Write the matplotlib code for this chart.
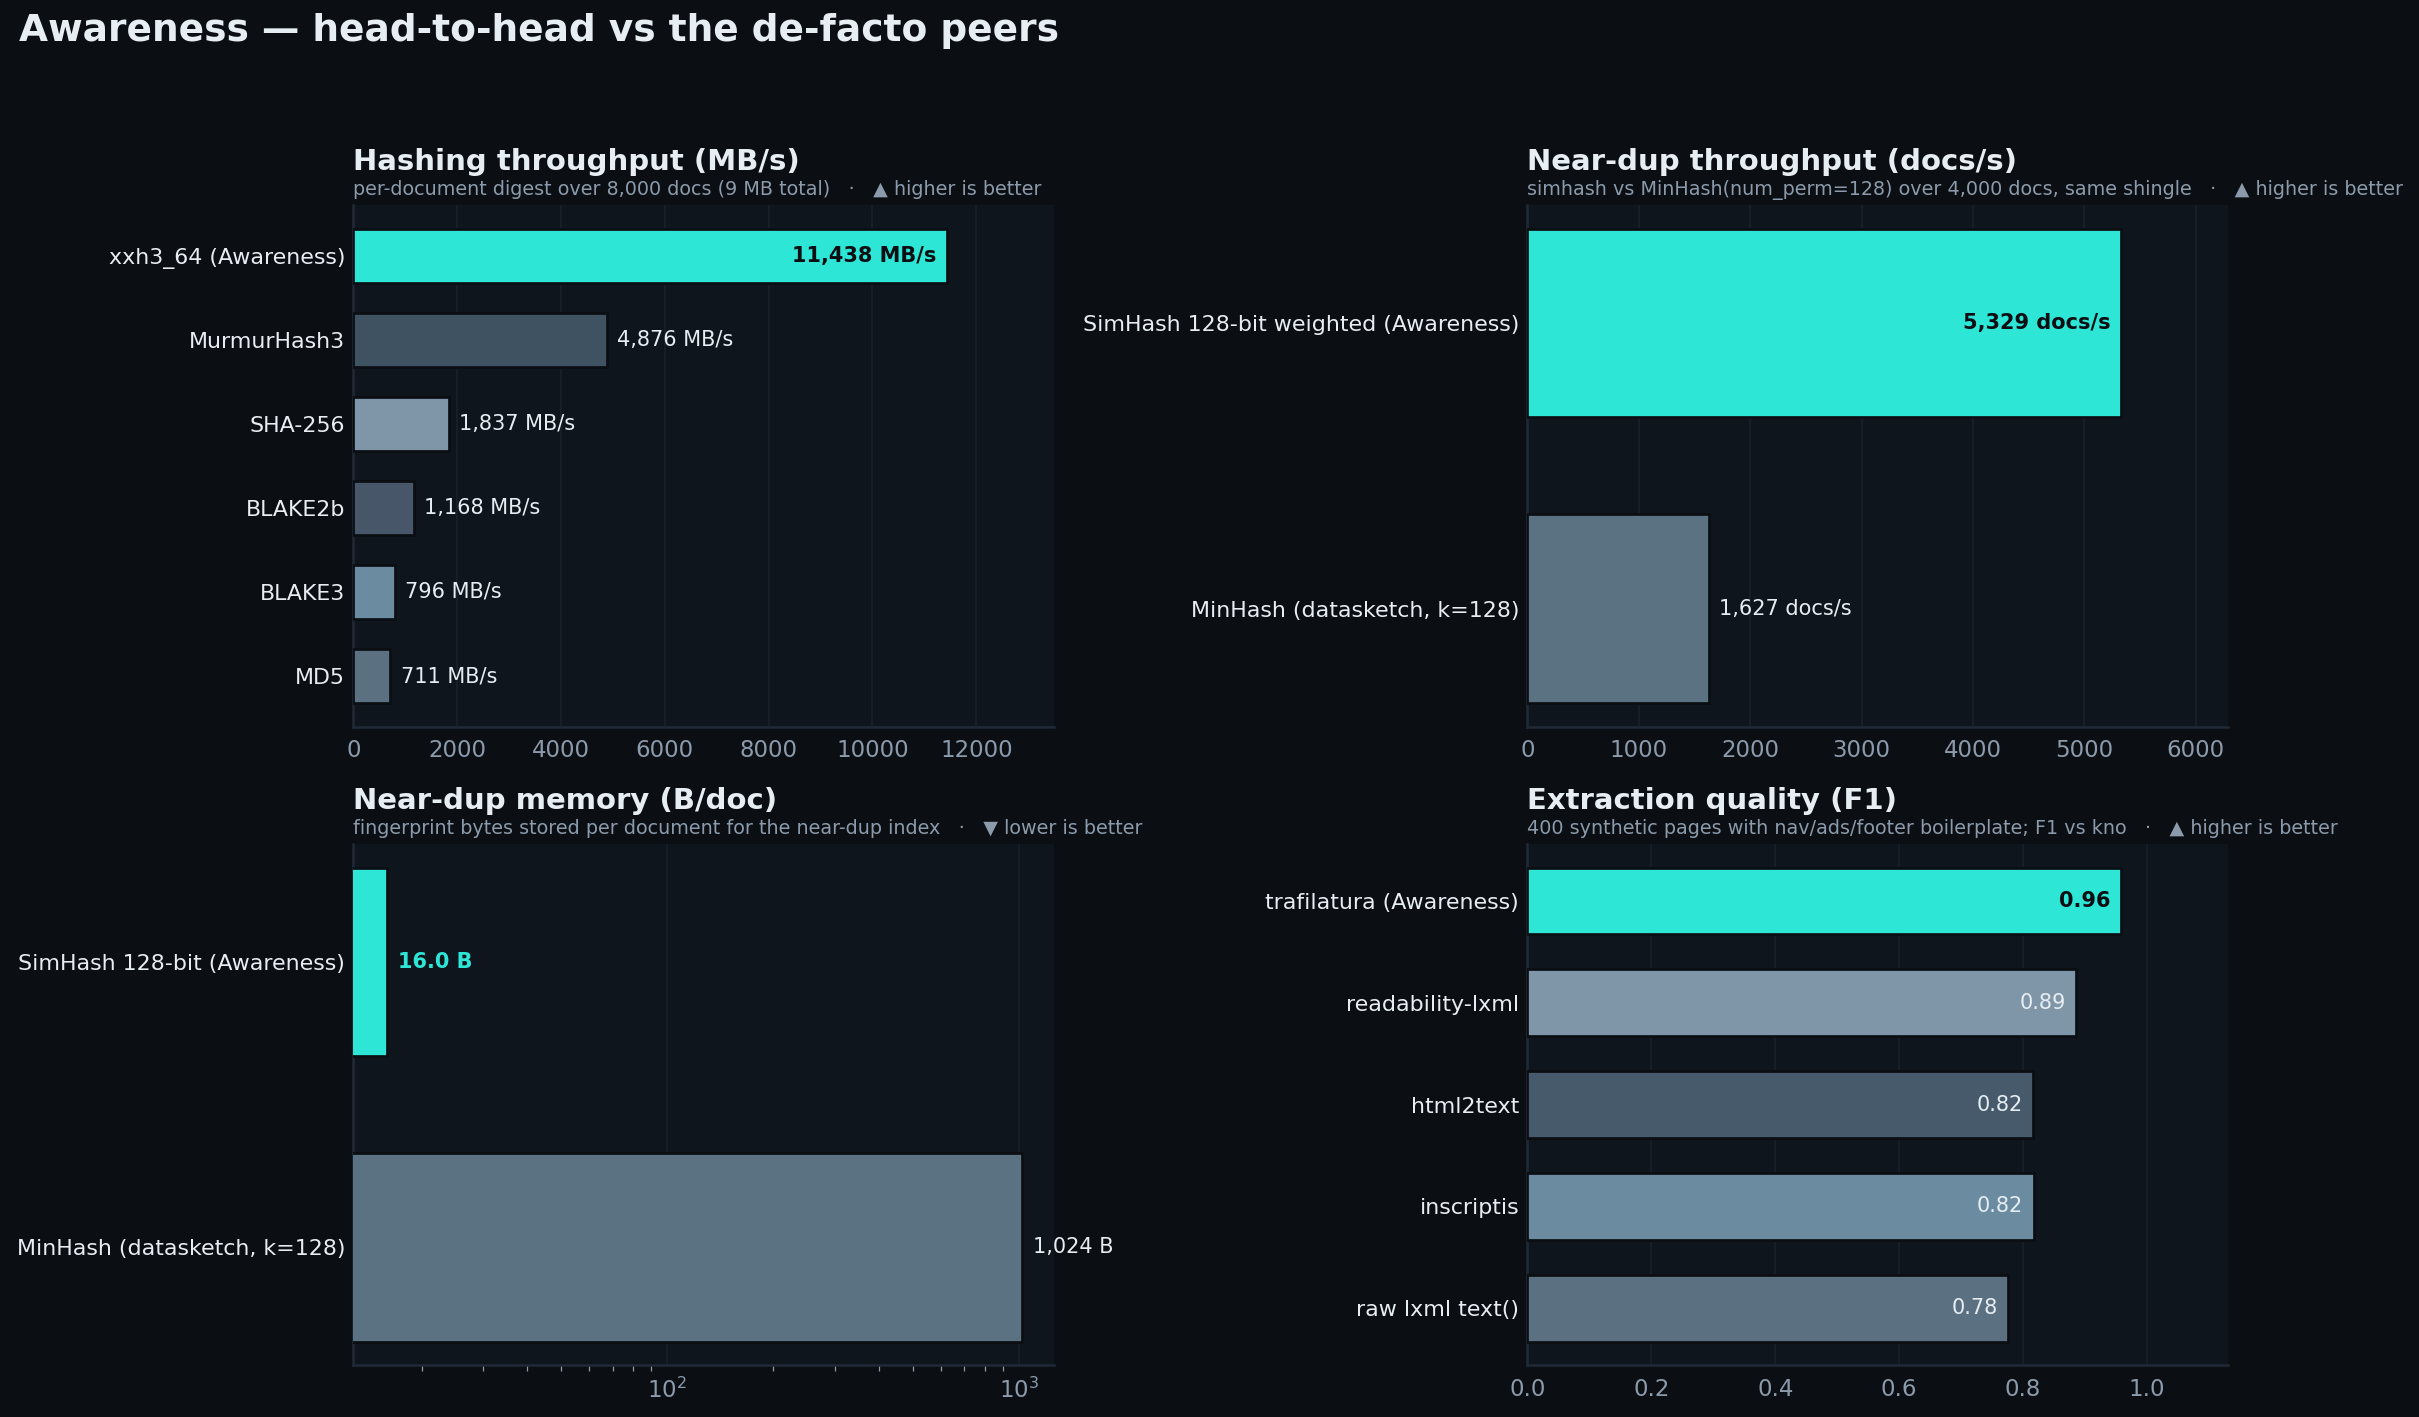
import matplotlib
matplotlib.use("Agg")
import matplotlib.pyplot as plt
import numpy as np

# palette
BG = "#0b0e13"
FACE = "#0f151c"
GRID = "#19212b"
SPINE = "#1f2a36"
TXT = "#e6edf3"
MUTED = "#8b9bab"
CYAN = "#2ee6d6"

# --- data ---
hash_names = ["xxh3_64 (Awareness)", "MurmurHash3", "SHA-256", "BLAKE2b", "BLAKE3", "MD5"]
hash_mbs = [11438, 4876, 1837, 1168, 796, 711]
hash_colors = [CYAN, "#3f5262", "#7f96a9", "#475769", "#6a8ba0", "#5b7080"]

nd_names = ["SimHash 128-bit weighted (Awareness)", "MinHash (datasketch, k=128)"]
nd_docs = [5329, 1627]
nd_colors = [CYAN, "#5b7282"]

mem_names = ["SimHash 128-bit (Awareness)", "MinHash (datasketch, k=128)"]
mem_bytes = [16.0, 1024]
mem_colors = [CYAN, "#5b7282"]

ext_names = ["trafilatura (Awareness)", "readability-lxml", "html2text", "inscriptis", "raw lxml text()"]
ext_f1 = [0.958, 0.886, 0.816, 0.817, 0.776]
ext_colors = [CYAN, "#7f96a9", "#475a6b", "#6a8ba0", "#5b7080"]

plt.rcParams["font.family"] = "DejaVu Sans"

fig = plt.figure(figsize=(2419 / 150, 1417 / 150), dpi=150, facecolor=BG)
fig.text(0.0077, 0.978, "Awareness \u2014 head-to-head vs the de-facto peers",
         color=TXT, fontsize=18, fontweight="bold", va="center", ha="left")

L1, L2, W = 0.1461, 0.6314, 0.2896
B1, B2, H = 0.4872, 0.0365, 0.368


def panel(rect, names, vals, colors, title, sub, fmt, height, log=False, inside=()):
    ax = fig.add_axes(rect, facecolor=FACE)
    y = np.arange(len(names))
    ax.barh(y, vals, height=height, color=colors, edgecolor=BG, linewidth=1.3, zorder=3)
    ax.set_yticks(y)
    ax.set_yticklabels(names, color=TXT, fontsize=10.65)
    ax.invert_yaxis()
    if log:
        ax.set_xscale("log")
        ax.set_xlim(vals[0] * 0.8, max(vals) * 1.23)
    else:
        ax.set_xlim(0, max(vals) * 1.18)
    for s in ("top", "right"):
        ax.spines[s].set_visible(False)
    for s in ("left", "bottom"):
        ax.spines[s].set_color(SPINE)
        ax.spines[s].set_linewidth(1.2)
    ax.tick_params(axis="x", which="major", length=0, colors=MUTED, labelsize=11, pad=6)
    ax.tick_params(axis="x", which="minor", length=3, colors=MUTED, width=0.6)
    ax.tick_params(axis="y", length=0, pad=4)
    ax.grid(axis="x", which="major", color=GRID, linewidth=0.8, zorder=0)
    ax.set_axisbelow(True)

    ax.text(0, 1.082, title, transform=ax.transAxes, color=TXT, fontsize=14,
            fontweight="bold", va="center", ha="left")
    ax.text(0, 1.03, sub, transform=ax.transAxes, color=MUTED, fontsize=9.2,
            va="center", ha="left")

    for i, v in enumerate(vals):
        lab = fmt(v)
        win = colors[i] == CYAN
        if i in inside:
            ax.annotate(lab, (v, i), xytext=(-5, 0), textcoords="offset points",
                        ha="right", va="center", fontsize=10,
                        color=BG if win else TXT,
                        fontweight="bold" if win else "normal", zorder=4)
        else:
            ax.annotate(lab, (v, i), xytext=(5, 0), textcoords="offset points",
                        ha="left", va="center", fontsize=10,
                        color=CYAN if win else TXT,
                        fontweight="bold" if win else "normal", zorder=4)
    return ax


panel([L1, B1, W, H], hash_names, hash_mbs, hash_colors,
      "Hashing throughput (MB/s)",
      "per-document digest over 8,000 docs (9 MB total)   \u00b7   \u25b2 higher is better",
      lambda v: f"{v:,.0f} MB/s", 0.64, inside=(0,))

panel([L2, B1, W, H], nd_names, nd_docs, nd_colors,
      "Near-dup throughput (docs/s)",
      "simhash vs MinHash(num_perm=128) over 4,000 docs, same shingle   \u00b7   \u25b2 higher is better",
      lambda v: f"{v:,.0f} docs/s", 0.66, inside=(0,))

panel([L1, B2, W, H], mem_names, mem_bytes, mem_colors,
      "Near-dup memory (B/doc)",
      "fingerprint bytes stored per document for the near-dup index   \u00b7   \u25bc lower is better",
      lambda v: f"{v:.1f} B" if v < 100 else f"{v:,.0f} B", 0.66, log=True)

panel([L2, B2, W, H], ext_names, ext_f1, ext_colors,
      "Extraction quality (F1)",
      "400 synthetic pages with nav/ads/footer boilerplate; F1 vs kno   \u00b7   \u25b2 higher is better",
      lambda v: f"{v:.2f}", 0.65, inside=(0, 1, 2, 3, 4))

fig.savefig("out.png", dpi=150, facecolor=BG)
